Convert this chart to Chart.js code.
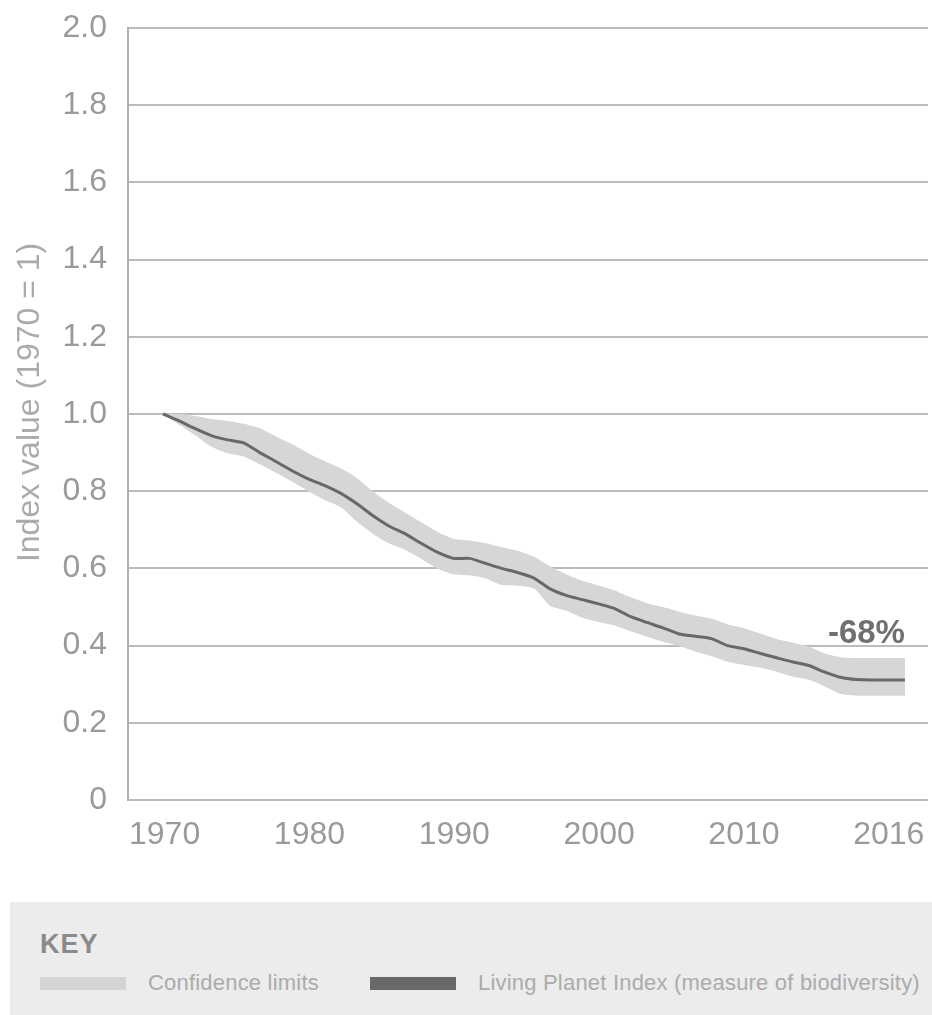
<!DOCTYPE html>
<html>
<head>
<meta charset="utf-8">
<script src="https://cdn.jsdelivr.net/npm/chart.js@4/dist/chart.umd.min.js"></script>
<style>
  html, body { margin: 0; padding: 0; background: #ffffff; }
  body { width: 932px; height: 1015px; overflow: hidden; font-family: "Liberation Sans", Arial, sans-serif; }
  #wrap { position: relative; width: 932px; height: 892px; }
  #key { position: absolute; left: 10px; top: 902px; width: 922px; height: 113px; background: #ececec; }
  #key .title { position: absolute; left: 30px; top: 27px; font-weight: bold; font-size: 27px; color: #8a8a8a; letter-spacing: 1px; }
  #key .sw { position: absolute; top: 75px; width: 86px; height: 13px; }
  #key .lbl { position: absolute; top: 68px; font-size: 22px; letter-spacing: 0.2px; color: #ababab; white-space: nowrap; }
</style>
</head>
<body>
<div id="wrap"><canvas id="c" width="932" height="892"></canvas></div>
<div id="key">
  <div class="title">KEY</div>
  <div class="sw" style="left:30px;background:#d4d4d4;"></div>
  <div class="lbl" style="left:138px;">Confidence limits</div>
  <div class="sw" style="left:360px;background:#686868;"></div>
  <div class="lbl" style="left:468px;">Living Planet Index (measure of biodiversity)</div>
</div>
<script>
const years = [1970,1971,1972,1973,1974,1975,1976,1977,1978,1979,
               1980,1981,1982,1983,1984,1985,1986,1987,1988,1989,
               1990,1991,1992,1993,1994,1995,1996,1997,1998,1999,
               2000,2001,2002,2003,2004,2005,2006,2007,2008,2009,
               2010,2011,2012,2013,2014,2015,2016];
const lpi = [1.000,0.982,0.962,0.944,0.933,0.925,0.900,0.877,0.853,0.832,
             0.815,0.795,0.768,0.737,0.710,0.690,0.665,0.642,0.626,0.626,
             0.613,0.600,0.589,0.575,0.547,0.530,0.519,0.508,0.496,0.475,
             0.460,0.446,0.430,0.424,0.418,0.400,0.392,0.380,0.369,0.358,
             0.349,0.332,0.318,0.312,0.311,0.311,0.311];
const upperLimit = [1.000,1.000,0.995,0.987,0.982,0.975,0.963,0.942,0.922,0.898,
                    0.878,0.860,0.835,0.800,0.770,0.745,0.720,0.695,0.677,0.672,
                    0.665,0.655,0.646,0.630,0.605,0.585,0.568,0.556,0.543,0.525,
                    0.510,0.500,0.488,0.478,0.470,0.455,0.445,0.432,0.418,0.408,
                    0.398,0.380,0.370,0.368,0.368,0.368,0.368];
const lowerLimit = [1.000,0.972,0.945,0.915,0.898,0.890,0.870,0.848,0.825,0.800,
                    0.778,0.759,0.722,0.690,0.665,0.648,0.625,0.600,0.585,0.582,
                    0.574,0.557,0.555,0.548,0.503,0.490,0.472,0.461,0.452,0.437,
                    0.423,0.410,0.399,0.385,0.373,0.358,0.350,0.343,0.333,0.320,
                    0.312,0.295,0.275,0.270,0.270,0.270,0.270];
const xTickLabels = ['1970','1980','1990','2000','2010','2016'];
const yTickLabels = ['0','0.2','0.4','0.6','0.8','1.0','1.2','1.4','1.6','1.8','2.0'];
const changeLabel = '-68%';
const yTitle = 'Index value (1970 = 1)';

const FONT = '"Liberation Sans", Arial, sans-serif';

const pts = arr => years.map((y, i) => ({ x: y, y: arr[i] }));

function noPad(scale) {
  scale.paddingTop = 0; scale.paddingBottom = 0;
  scale.paddingLeft = 0; scale.paddingRight = 0;
}

const annotate = {
  id: 'annotate',
  afterDatasetsDraw(chart) {
    const { ctx, scales } = chart;
    const i = years.length - 1;
    const x = scales.x.getPixelForValue(years[i]);
    const y = scales.y.getPixelForValue(upperLimit[i]);
    ctx.save();
    ctx.font = 'bold 33px ' + FONT;
    ctx.fillStyle = '#707070';
    ctx.textAlign = 'right';
    ctx.textBaseline = 'alphabetic';
    ctx.fillText(changeLabel, x, y - 15);
    ctx.restore();
  },
  afterDraw(chart) {
    // y-axis title, placed slightly above the axis centre as in the reference
    const { ctx, scales } = chart;
    const cy = scales.y.getPixelForValue(1.03);
    ctx.save();
    ctx.translate(39, cy);
    ctx.rotate(-Math.PI / 2);
    ctx.font = '32px ' + FONT;
    ctx.fillStyle = '#ababab';
    ctx.textAlign = 'center';
    ctx.textBaseline = 'alphabetic';
    ctx.fillText(yTitle, 0, 0);
    ctx.restore();
  }
};

new Chart(document.getElementById('c'), {
  type: 'line',
  data: {
    datasets: [
      { label: 'Living Planet Index (measure of biodiversity)', data: pts(lpi),
        borderColor: '#686868', borderWidth: 3, pointRadius: 0, tension: 0.2, fill: false, order: 0 },
      { label: 'Confidence limits', data: pts(upperLimit),
        borderColor: 'rgba(0,0,0,0)', borderWidth: 0, pointRadius: 0, tension: 0.2,
        backgroundColor: '#d6d6d6', fill: '+1', order: 1 },
      { label: 'lower', data: pts(lowerLimit),
        borderColor: 'rgba(0,0,0,0)', borderWidth: 0, pointRadius: 0, tension: 0.2, fill: false, order: 2 }
    ]
  },
  options: {
    responsive: false,
    animation: false,
    layout: { autoPadding: false, padding: { top: 28, right: 4, bottom: 0, left: 0 } },
    plugins: { legend: { display: false }, tooltip: { enabled: false } },
    scales: {
      x: {
        type: 'linear',
        min: 1967.83, max: 2017.43,
        afterFit(scale) { scale.height = 92; noPad(scale); },
        afterBuildTicks(scale) {
          const first = 1970.1, last = 2015.0;
          scale.ticks = xTickLabels.map((l, i) => ({ value: first + i * (last - first) / (xTickLabels.length - 1) }));
        },
        ticks: {
          autoSkip: false, maxRotation: 0, padding: 16,
          font: { size: 32, family: FONT }, color: '#9a9a9a',
          callback: (v, i) => xTickLabels[i]
        },
        grid: { display: false, drawTicks: false },
        border: { display: false }
      },
      y: {
        min: 0, max: 2,
        afterFit(scale) { scale.width = 128; noPad(scale); },
        ticks: {
          stepSize: 0.2, padding: 21,
          font: { size: 32, family: FONT }, color: '#9a9a9a',
          callback: (v, i) => yTickLabels[i]
        },
        grid: { color: '#bcbcbc', lineWidth: 2, drawTicks: false },
        border: { display: true, color: '#b0b0b0', width: 2 },
        title: { display: false, text: yTitle }
      }
    }
  },
  plugins: [annotate]
});
</script>
</body>
</html>
